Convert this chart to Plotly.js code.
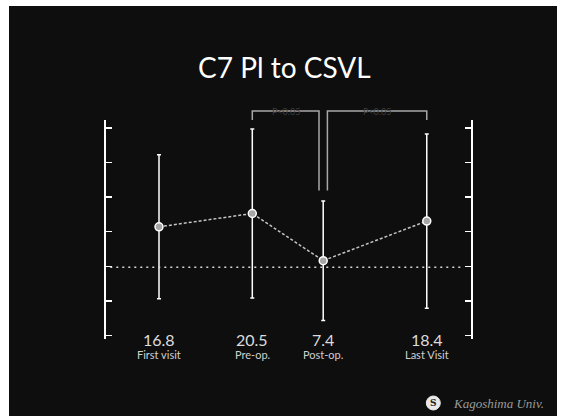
<!DOCTYPE html>
<html>
<head>
<meta charset="utf-8">
<script src="https://cdn.plot.ly/plotly-3.0.1.min.js"></script>
<style>
  html, body { margin: 0; padding: 0; background: #ffffff; width: 564px; height: 416px; overflow: hidden; }
  #chart { position: absolute; left: 9px; top: 6px; width: 548px; height: 410px; }
</style>
</head>
<body>
<div id="chart"></div>
<script>
// ---- data ----
const categories  = ['First visit', 'Pre-op.', 'Post-op.', 'Last Visit'];
const visitPos    = [0, 1, 1.76, 2.87];          // relative time position of each visit
const meanVals    = [16.8, 20.5, 7.4, 18.4];
const sdVals      = [20.0, 23.5, 16.6, 24.2];
const valueLabels = ['16.8', '20.5', '7.4', '18.4'];
const refLineVal  = 5.6;
const sigLabels   = ['P<0.05', 'P<0.05'];
const titleText   = 'C7 Pl to CSVL';
const logoText    = 'Kagoshima Univ.';

// ---- geometry helpers (plot area in page px: x 105.7-470.7, y 120-339) ----
const PX0 = 105.7, PX1 = 470.7, PY0 = 120, PY1 = 339;
const px2paperX = p => (p - PX0) / (PX1 - PX0);
const py2paperY = p => (PY1 - p) / (PY1 - PY0);

const trace = {
  x: visitPos,
  y: meanVals,
  type: 'scatter',
  mode: 'lines+markers',
  line: { color: '#c4c4c4', width: 1.5, dash: '3px,2px' },
  marker: { size: 8, color: '#a6a6a6', line: { color: '#ffffff', width: 1.5 } },
  error_y: { type: 'data', array: sdVals, visible: true, color: '#ffffff', thickness: 1.5, width: 2 },
  hoverinfo: 'skip',
  cliponaxis: false
};

const annotations = [];
for (let i = 0; i < categories.length; i++) {
  annotations.push({
    x: visitPos[i], xref: 'x', y: py2paperY(339.5), yref: 'paper',
    text: valueLabels[i], showarrow: false, xanchor: 'center', yanchor: 'middle',
    font: { family: 'Lato, sans-serif', size: 16, color: '#dcdcdc' }
  });
  annotations.push({
    x: visitPos[i], xref: 'x', y: py2paperY(354), yref: 'paper',
    text: categories[i], showarrow: false, xanchor: 'center', yanchor: 'middle',
    font: { family: 'Lato, sans-serif', size: 11, color: '#d0d0d0' }
  });
}

// significance brackets
const off = 0.045;
const brTop = py2paperY(111), legHigh = py2paperY(120), legLow = py2paperY(190.5);
const br1 = [visitPos[1], visitPos[2] - off];
const br2 = [visitPos[2] + off, visitPos[3]];
const shapes = [
  { type: 'path', xref: 'x', yref: 'paper',
    path: `M ${br1[0]} ${legHigh} L ${br1[0]} ${brTop} L ${br1[1]} ${brTop} L ${br1[1]} ${legLow}`,
    line: { color: '#a8a8a8', width: 1.5 } },
  { type: 'path', xref: 'x', yref: 'paper',
    path: `M ${br2[0]} ${legLow} L ${br2[0]} ${brTop} L ${br2[1]} ${brTop} L ${br2[1]} ${legHigh}`,
    line: { color: '#a8a8a8', width: 1.5 } },
  // reference dotted line
  { type: 'line', xref: 'paper', yref: 'y', x0: px2paperX(110), x1: px2paperX(463),
    y0: refLineVal, y1: refLineVal, line: { color: '#d8d8d8', width: 1.5, dash: '2px,4px' } },
  // logo circle
  { type: 'circle', xref: 'paper', yref: 'paper',
    x0: px2paperX(426), x1: px2paperX(440), y0: py2paperY(410), y1: py2paperY(396),
    fillcolor: '#e8e8e8', line: { color: '#e8e8e8', width: 1 } }
];

annotations.push({
  x: (br1[0] + br1[1]) / 2, xref: 'x', y: py2paperY(104), yref: 'paper',
  text: sigLabels[0], showarrow: false, font: { family: 'Lato, sans-serif', size: 9, color: '#3c3c3c' }
});
annotations.push({
  x: (br2[0] + br2[1]) / 2, xref: 'x', y: py2paperY(104), yref: 'paper',
  text: sigLabels[1], showarrow: false, font: { family: 'Lato, sans-serif', size: 9, color: '#3c3c3c' }
});
annotations.push({
  x: px2paperX(433), xref: 'paper', y: py2paperY(403), yref: 'paper',
  text: '<b>S</b>', showarrow: false, xanchor: 'center', yanchor: 'middle',
  font: { family: 'DejaVu Serif, serif', size: 9, color: '#222222' }
});
annotations.push({
  x: px2paperX(451), xref: 'paper', y: py2paperY(403), yref: 'paper',
  text: '<i>' + logoText + '</i>', showarrow: false, xanchor: 'left', yanchor: 'middle',
  font: { family: 'Liberation Serif, serif', size: 13, color: '#9a9a9a' }
});

const layout = {
  width: 548, height: 410,
  margin: { l: PX0 - 9, r: 548 - (PX1 - 9), t: PY0 - 6, b: 410 - (PY1 - 6), pad: 0 },
  paper_bgcolor: '#0e0e0e',
  plot_bgcolor: 'rgba(0,0,0,0)',
  showlegend: false,
  title: {
    text: titleText, x: px2paperX(284) , xref: 'paper', xanchor: 'center',
    y: 1 - (68.5 - 6) / 410, yref: 'container', yanchor: 'middle',
    font: { family: 'Lato, sans-serif', size: 28, color: '#ffffff' }
  },
  xaxis: {
    range: [-0.568, 3.344], visible: false, showgrid: false, zeroline: false
  },
  yaxis: {
    range: [-14.36, 46.47], showgrid: false, zeroline: false, showticklabels: false,
    showline: true, linecolor: '#ffffff', linewidth: 2, mirror: 'ticks',
    ticks: 'inside', ticklen: 6, tickwidth: 1.5, tickcolor: '#ffffff',
    tick0: 15.44, dtick: 9.61
  },
  shapes: shapes,
  annotations: annotations
};

Plotly.newPlot('chart', [trace], layout, { displayModeBar: false, staticPlot: true });
</script>
</body>
</html>
